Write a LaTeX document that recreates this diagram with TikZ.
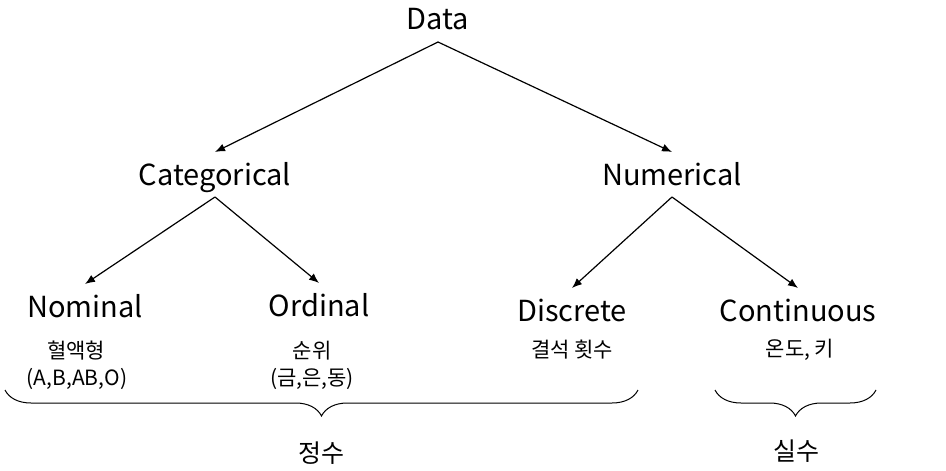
\documentclass[tikz,border=0pt]{standalone}
\usepackage{fontspec}
\setmainfont{Noto Sans CJK KR}
\usetikzlibrary{arrows.meta,decorations.pathreplacing}

\tikzset{
  lbl/.style={font=\fontsize{29}{34}\selectfont, inner sep=0pt, outer xsep=0pt, outer ysep=12pt,
              text height=21pt, text depth=0pt, anchor=base},
  note/.style={font=\fontsize{21}{25}\selectfont, inner sep=0pt},
  sumlbl/.style={font=\fontsize{25}{30}\selectfont, inner sep=0pt},
  arr/.style={-{Latex[length=10pt,width=8pt]}, line width=1.2pt},
  grp/.style={decorate, decoration={brace, amplitude=26pt, mirror}, line width=1pt}
}

\begin{document}
\begin{tikzpicture}[x=1pt,y=-1pt]
            \useasboundingbox (0,0) rectangle (946,471);
            % tree
            \node[lbl] (data) at (438,30) {Data};
            \node[lbl] (cat) at (215,185) {Categorical};
            \node[lbl] (num) at (672,185) {Numerical};
            \node[lbl] (nom) at (85,317) {Nominal};
            \node[lbl] (ord) at (319,316) {Ordinal};
            \node[lbl] (dis) at (572,321) {Discrete};
            \node[lbl] (con) at (798,321) {Continuous};
            \draw[arr] (data.south) -- (cat.north);
            \draw[arr] (data.south) -- (num.north);
            \draw[arr] (cat.south) -- (nom.north);
            \draw[arr] (cat.south) -- (ord.north);
            \draw[arr] (num.south) -- (dis.north);
            \draw[arr] (num.south) -- (con.north);
            % examples
            \node[note] (nomex) at (76,351) {혈액형};
            \node[note] (nomset) at (77,379) {(A,B,AB,O)};
            \node[note] (ordex) at (312,351) {순위};
            \node[note] (ordset) at (312,379) {(금,은,동)};
            \node[note] (disex) at (572,350) {결석 횟수};
            \node[note] (conex) at (800,350) {온도, 키};
            % groups
            \coordinate (intl) at (5,390);
            \coordinate (intr) at (638,390);
            \coordinate (reall) at (715,390);
            \coordinate (realr) at (876,390);
            \draw[grp] (intl) -- (intr);
            \draw[grp] (reall) -- (realr);
            \node[sumlbl] (intlbl) at (321,453) {정수};
            \node[sumlbl] (reallbl) at (796,451) {실수};
        \end{tikzpicture}
\end{document}
